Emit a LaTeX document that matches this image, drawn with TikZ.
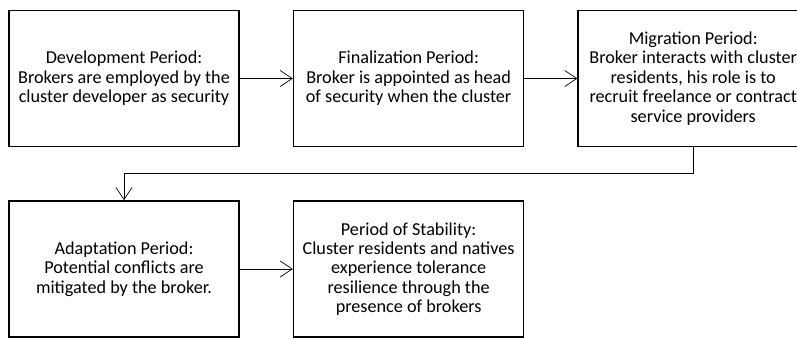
\documentclass[tikz,border=0pt]{standalone}
\usepackage{fontspec}
\setmainfont{Carlito}
\usetikzlibrary{arrows.meta,positioning}
\tikzset{
 period/.style={draw,line width=1.6pt,minimum width=230pt,minimum height=136pt,
  align=center,inner sep=0pt,font=\fontsize{18.2}{19.4}\selectfont},
 flow/.style={line width=0.7pt,-{Straight Barb[length=12pt,width=16pt]}}
}
\begin{document}
\begin{tikzpicture}[x=1pt,y=1pt]
 \useasboundingbox (0,0) rectangle (797,-339);
 % first row
 \node[period] (dev) at (124,-78.5) {Development Period:\\Brokers are employed by the\\cluster developer as security};
 \node[period,right=53pt of dev] (fin) {Finalization Period:\\Broker is appointed as head\\of security when the cluster};
 \node[period,right=53pt of fin] (mig) {Migration Period:\\Broker interacts with cluster\\residents, his role is to\\recruit freelance or contract\\service providers};
 % second row
 \node[period] (adapt) at (124,-269) {Adaptation Period:\\Potential conflicts are\\mitigated by the broker.};
 \node[period,right=53pt of adapt] (stab) {Period of Stability:\\Cluster residents and natives\\experience tolerance\\resilience through the\\presence of brokers};
 \coordinate (turn) at (0,-173);
 \draw[flow] (dev) -- (fin);
 \draw[flow] (fin) -- (mig);
 \draw[flow] (mig.south) -- (mig.south |- turn) -| (adapt.north);
 \draw[flow] (adapt) -- (stab);
\end{tikzpicture}
\end{document}
